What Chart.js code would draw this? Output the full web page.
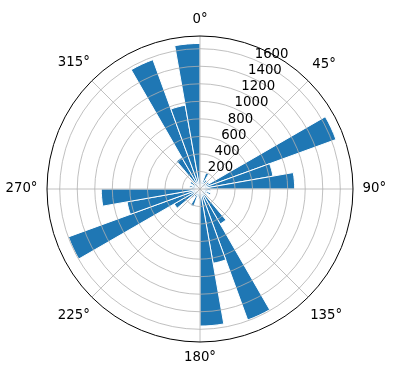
<!DOCTYPE html>
<html>
<head>
<meta charset="utf-8">
<script src="https://cdn.jsdelivr.net/npm/chart.js@4/dist/chart.umd.min.js"></script>
<style>
  html, body { margin: 0; padding: 0; background: #fff; }
  canvas { display: block; }
</style>
</head>
<body>
<canvas id="canvas" width="396" height="380"></canvas>
<script>
// 36 direction bins of 10 degrees, clockwise from north
var binStarts = [0, 10, 20, 30, 40, 50, 60, 70, 80, 90, 100, 110,
                 120, 130, 140, 150, 160, 170, 180, 190, 200, 210, 220, 230,
                 240, 250, 260, 270, 280, 290, 300, 310, 320, 330, 340, 350];
var counts = [100, 80, 195, 120, 90, 120, 1650, 845, 1080, 120, 90, 130,
              80, 100, 460, 1590, 860, 1563, 110, 90, 210, 100, 130, 340,
              1597, 845, 1126, 100, 120, 90, 130, 80, 415, 1570, 970, 1660];
var rTicks = [200, 400, 600, 800, 1000, 1200, 1400, 1600];
var angleTicks = [0, 45, 90, 135, 180, 225, 270, 315];
var rMax = 1745;

var blue = '#1f77b4';
var font = '13.3px "DejaVu Sans", sans-serif';

// matplotlib-like polar frame drawn on top of the bars
var polarFrame = {
  id: 'polarFrame',
  afterDatasetsDraw: function(chart) {
    var s = chart.scales.r;
    var ctx = chart.ctx;
    var cx = s.xCenter, cy = s.yCenter, R = s.drawingArea;
    ctx.save();
    ctx.strokeStyle = '#b0b0b0';
    ctx.lineWidth = 0.8;
    rTicks.forEach(function(v) {
      ctx.beginPath();
      ctx.arc(cx, cy, s.getDistanceFromCenterForValue(v), 0, Math.PI * 2);
      ctx.stroke();
    });
    angleTicks.forEach(function(a) {
      var t = a * Math.PI / 180;
      ctx.beginPath();
      ctx.moveTo(cx, cy);
      ctx.lineTo(cx + R * Math.sin(t), cy - R * Math.cos(t));
      ctx.stroke();
    });
    ctx.strokeStyle = '#000';
    ctx.lineWidth = 1;
    ctx.beginPath();
    ctx.arc(cx, cy, R, 0, Math.PI * 2);
    ctx.stroke();

    ctx.fillStyle = '#000';
    ctx.font = font;
    ctx.textAlign = 'center';
    ctx.textBaseline = 'middle';
    angleTicks.forEach(function(a) {
      var t = a * Math.PI / 180;
      var txt = a + '°';
      var hw = ctx.measureText(txt).width / 2, hh = 6.5;
      var d = R + 9.5 + Math.abs(Math.sin(t)) * hw + Math.abs(Math.cos(t)) * hh;
      ctx.fillText(txt, cx + d * Math.sin(t), cy - d * Math.cos(t));
    });

    var lt = 22.5 * Math.PI / 180;
    ctx.textAlign = 'left';
    ctx.textBaseline = 'alphabetic';
    rTicks.forEach(function(v) {
      var d = s.getDistanceFromCenterForValue(v);
      ctx.fillText(String(v), cx + d * Math.sin(lt) + 1, cy - d * Math.cos(lt) - 1.5);
    });
    ctx.restore();
  }
};

var config = {
  type: 'polarArea',
  data: {
    labels: binStarts.map(function(b) { return b + '°'; }),
    datasets: [{
      data: counts,
      backgroundColor: blue,
      borderColor: '#ffffff',
      borderWidth: 1
    }]
  },
  options: {
    responsive: false,
    animation: false,
    devicePixelRatio: 1,
    startAngle: 0,
    layout: { padding: { left: 47, right: 42, top: 36, bottom: 37 } },
    plugins: {
      legend: { display: false },
      tooltip: { enabled: false }
    },
    scales: {
      r: {
        min: 0,
        max: rMax,
        startAngle: 0,
        grid: { display: false },
        angleLines: { display: false },
        ticks: { display: false },
        pointLabels: { display: false }
      }
    }
  },
  plugins: [polarFrame]
};

window.onload = function() {
  window.myPolar = new Chart(document.getElementById('canvas'), config);
};
</script>
</body>
</html>
